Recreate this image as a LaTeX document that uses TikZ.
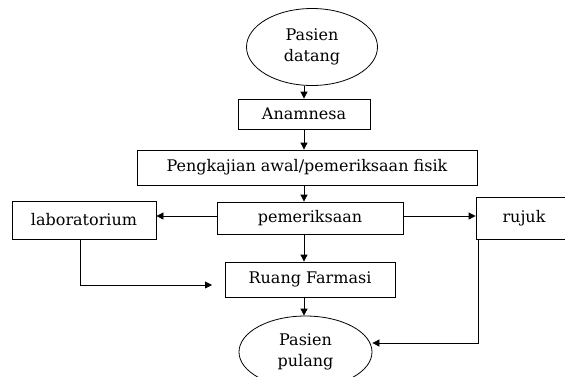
\documentclass[tikz,border=0pt]{standalone}
\usepackage{fontspec}
\setmainfont{DejaVu Serif}
\usepackage{tikz}
\usetikzlibrary{shapes,arrows.meta,positioning,calc}

\begin{document}
\begin{tikzpicture}[
    x=1pt, y=-1pt,
    box/.style={rectangle, draw, line width=0.8pt, inner sep=0pt, align=center, font=\fontsize{16}{20}\selectfont},
    oval/.style={ellipse, draw, line width=0.8pt, inner sep=0pt, align=center, font=\fontsize{16}{21}\selectfont},
    arrow/.style={-{Triangle[length=7pt,width=7pt]}, line width=0.8pt}
]
\useasboundingbox (0,0) rectangle (565,376);

% Start
\node[oval, minimum width=131pt, minimum height=77pt] (datang) at (312,47) {Pasien\\datang};

% Anamnesa
\node[box, minimum width=132pt, minimum height=30pt] (anamnesa) at (304,114) {Anamnesa};

\draw[arrow] (datang.south -| anamnesa) -- (anamnesa);

% Pengkajian
\node[box, minimum width=340pt, minimum height=35pt] (pengkajian) at (307,167.5) {Pengkajian awal/pemeriksaan fisik};

\draw[arrow] (anamnesa.south) -- (anamnesa.south |- pengkajian.north);

% Pemeriksaan
\node[box, minimum width=186pt, minimum height=32pt] (periksa) at (310,218) {pemeriksaan};

\draw[arrow] (anamnesa.south |- pengkajian.south) -- (anamnesa.south |- periksa.north);

% Branches
\node[box, minimum width=144pt, minimum height=38pt] (lab) at (84,220) {laboratorium};
\node[box, minimum width=96pt, minimum height=42pt] (rujuk) at (524,218) {rujuk};

\draw[arrow] ([yshift=2pt]periksa.west) -- ([yshift=2pt]periksa.west -| lab.east);
\draw[arrow] ([yshift=2pt]periksa.east) -- ([yshift=2pt]periksa.east -| rujuk.west);

% Farmasi
\node[box, minimum width=170pt, minimum height=35pt] (farmasi) at (310,279.5) {Ruang Farmasi};

\draw[arrow] (anamnesa.south |- periksa.south) -- (anamnesa.south |- farmasi.north);

\coordinate (labend) at (212,285);
\draw[arrow] ([xshift=-4pt]lab.south) |- (labend);

% Finish
\node[oval, minimum width=133pt, minimum height=72pt] (pulang) at (305.5,352) {Pasien\\pulang};

\draw[arrow] (pulang.north -| anamnesa.south) ++(0,-19) -- (pulang.north -| anamnesa.south);

\coordinate (rujukturn) at (478,343);
\draw[arrow] (rujuk.south -| rujukturn) -- (rujukturn) -- ([yshift=9pt]pulang.east);

\end{tikzpicture}
\end{document}
